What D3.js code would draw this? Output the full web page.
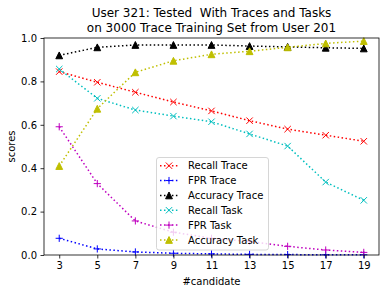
<!DOCTYPE html>
<html><head><meta charset="utf-8">
<script src="https://cdn.jsdelivr.net/npm/d3@7"></script>
<style>body{margin:0;background:#fff;} svg{display:block;} text{font-family:"DejaVu Sans",sans-serif;white-space:pre;}</style>
</head><body>
<svg id="c" width="386" height="293"></svg>
<script>
const candidates = [3,5,7,9,11,13,15,17,19];
const recallTrace   = [0.845,0.796,0.750,0.705,0.664,0.619,0.580,0.552,0.524];
const fprTrace      = [0.077,0.028,0.014,0.008,0.005,0.003,0.002,0.001,0.001];
const accuracyTrace = [0.920,0.957,0.968,0.968,0.968,0.963,0.959,0.955,0.952];
const recallTask    = [0.857,0.722,0.668,0.640,0.614,0.558,0.502,0.336,0.252];
const fprTask       = [0.591,0.329,0.157,0.105,0.077,0.062,0.040,0.023,0.012];
const accuracyTask  = [0.410,0.674,0.842,0.895,0.925,0.939,0.957,0.975,0.986];
const seriesNames   = ["Recall Trace","FPR Trace","Accuracy Trace","Recall Task","FPR Task","Accuracy Task"];
const seriesValues  = [recallTrace,fprTrace,accuracyTrace,recallTask,fprTask,accuracyTask];
const seriesColors  = ["#ff0000","#0000ff","#000000","#00bfbf","#bf00bf","#bfbf00"];
const seriesMarkers = ["x","+","^","x","+","^"];
const xTicks = [3,5,7,9,11,13,15,17,19];
const yTicks = [0,0.2,0.4,0.6,0.8,1.0];
const titleLines = ["User 321: Tested  With Traces and Tasks","on 3000 Trace Training Set from User 201"];

const svg = d3.select("#c");
const L=44, R=379, T=38, B=255;
const x = d3.scaleLinear().domain([2.2,19.8]).range([L,R]);
const y = d3.scaleLinear().domain([0,1]).range([B,T]);

function marker(g, type, cx, cy, color){
  const s=3.2;
  if(type==="x"){
    g.append("path").attr("d",`M${cx-s},${cy-s}L${cx+s},${cy+s}M${cx-s},${cy+s}L${cx+s},${cy-s}`)
      .attr("stroke",color).attr("stroke-width",1).attr("fill","none");
  } else if(type==="+"){
    const p=3.6;
    g.append("path").attr("d",`M${cx-p},${cy}L${cx+p},${cy}M${cx},${cy-p}L${cx},${cy+p}`)
      .attr("stroke",color).attr("stroke-width",1).attr("fill","none");
  } else {
    const h=3.4;
    g.append("path").attr("d",`M${cx},${cy-h}L${cx+h},${cy+h}L${cx-h},${cy+h}Z`)
      .attr("fill",color).attr("stroke",color).attr("stroke-width",1);
  }
}

const plot = svg.append("g");
const line = d3.line().x((d,i)=>x(candidates[i])).y(d=>y(d));
seriesValues.forEach((vals,k)=>{
  const g = plot.append("g");
  g.append("path").attr("d",line(vals)).attr("fill","none").attr("stroke",seriesColors[k])
    .attr("stroke-width",1.5).attr("stroke-dasharray","1.5,2.475");
  vals.forEach((v,i)=>marker(g,seriesMarkers[k],x(candidates[i]),y(v),seriesColors[k]));
});

// axes
const xa = svg.append("g").attr("transform",`translate(0,${B})`)
  .call(d3.axisBottom(x).tickValues(xTicks).tickSize(3.5).tickPadding(3.5).tickFormat(d3.format("d")));
const ya = svg.append("g").attr("transform",`translate(${L},0)`)
  .call(d3.axisLeft(y).tickValues(yTicks).tickSize(3.5).tickPadding(3.5).tickFormat(d3.format(".1f")));
[xa,ya].forEach(a=>{
  a.select(".domain").remove();
  a.selectAll("line").attr("stroke","#000").attr("stroke-width",0.8);
  a.selectAll("text").attr("font-size",10).attr("fill","#000").attr("font-family","DejaVu Sans");
});
svg.append("rect").attr("x",L).attr("y",T).attr("width",R-L).attr("height",B-T)
  .attr("fill","none").attr("stroke","#000").attr("stroke-width",0.8);

// labels
svg.append("text").attr("x",(L+R)/2).attr("y",285).attr("text-anchor","middle").attr("font-size",10).text("#candidate");
svg.append("text").attr("transform",`translate(15,${(T+B)/2}) rotate(-90)`).attr("text-anchor","middle").attr("font-size",10).text("scores");
titleLines.forEach((t,i)=>svg.append("text").attr("x",(L+R)/2).attr("y",17+i*14.5).attr("text-anchor","middle").attr("font-size",12).attr("xml:space","preserve").text(t));

// legend
const lg = svg.append("g");
lg.append("rect").attr("x",156.5).attr("y",157.5).attr("width",112).attr("height",92.5).attr("rx",2.5)
  .attr("fill","#fff").attr("fill-opacity",0.8).attr("stroke","#cccccc").attr("stroke-width",0.8);
seriesNames.forEach((n,k)=>{
  const cy = 165.7 + k*14.85;
  lg.append("line").attr("x1",160).attr("x2",178).attr("y1",cy).attr("y2",cy)
    .attr("stroke",seriesColors[k]).attr("stroke-width",1.5).attr("stroke-dasharray","1.5,2.475");
  marker(lg,seriesMarkers[k],169,cy,seriesColors[k]);
  lg.append("text").attr("x",188).attr("y",cy+3.6).attr("font-size",10).text(n);
});
</script>
</body></html>
